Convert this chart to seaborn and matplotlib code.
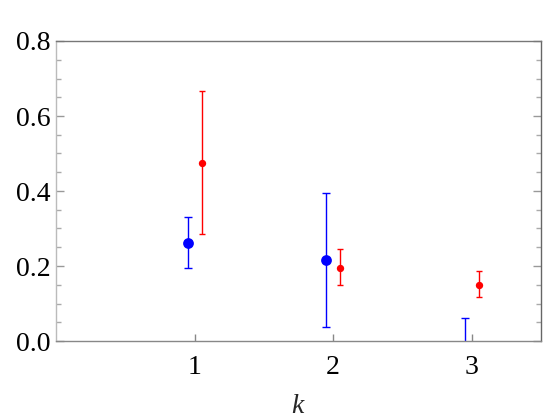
import numpy as np
import matplotlib
matplotlib.use("Agg")
import matplotlib.pyplot as plt
import seaborn as sns
import pandas as pd
from matplotlib.ticker import MultipleLocator

k = [1, 2, 3]
blue_val = [0.262, 0.216, -0.05]
blue_lo = [0.195, 0.038, -0.20]
blue_hi = [0.331, 0.395, 0.062]
red_val = [0.475, 0.196, 0.150]
red_lo = [0.285, 0.149, 0.118]
red_hi = [0.667, 0.246, 0.187]

sns.set_theme(style="ticks")
serif = "Liberation Serif"
plt.rcParams['font.family'] = [serif, 'DejaVu Serif']
plt.rcParams['mathtext.fontset'] = 'custom'
plt.rcParams['mathtext.it'] = serif + ':italic'
plt.rcParams['mathtext.rm'] = serif

fig = plt.figure(figsize=(5.58, 4.19), dpi=100)
ax = fig.add_axes([56/558, 1-341/419, (541-56)/558, (341-41)/419])

off = 0.05
kb = np.array(k) - off
kr = np.array(k) + off
bv = np.array(blue_val); rv = np.array(red_val)
ax.errorbar(kb, bv, yerr=[bv - np.array(blue_lo), np.array(blue_hi) - bv],
            fmt='none', ecolor=(0, 0, 1), elinewidth=1.0, capsize=3, capthick=1.0, zorder=2)
ax.errorbar(kr, rv, yerr=[rv - np.array(red_lo), np.array(red_hi) - rv],
            fmt='none', ecolor=(1, 0, 0), elinewidth=1.0, capsize=2.5, capthick=1.0, zorder=2)

dfb = pd.DataFrame({"k": kb, "v": bv})
dfr = pd.DataFrame({"k": kr, "v": rv})
sns.scatterplot(data=dfb, x="k", y="v", ax=ax, color=(0, 0, 1), s=60, linewidth=0, zorder=3)
sns.scatterplot(data=dfr, x="k", y="v", ax=ax, color=(1, 0, 0), s=28, linewidth=0, zorder=3)

ax.set_xlim(0.0, 3.5)
ax.set_ylim(0.0, 0.8)
ax.set_xticks(k)
ax.set_yticks([0.0, 0.2, 0.4, 0.6, 0.8])
ax.set_yticklabels(["0.0", "0.2", "0.4", "0.6", "0.8"])
ax.yaxis.set_minor_locator(MultipleLocator(0.05))

ax.spines['left'].set_color('#bbbbbb')
ax.spines['bottom'].set_color('#888888')
ax.spines['top'].set_color('#777777')
ax.spines['right'].set_color('#666666')
for s in ax.spines.values():
    s.set_linewidth(1.0)
    s.set_visible(True)

ax.tick_params(axis='y', which='major', direction='in', length=6, width=1, color='#999999',
               left=True, right=True, labelsize=20, pad=4, labelcolor='black')
ax.tick_params(axis='y', which='minor', direction='in', length=3.5, width=1, color='#aaaaaa',
               left=True, right=True)
ax.tick_params(axis='x', which='major', direction='in', length=5, width=1, color='#888888',
               top=False, bottom=True, labelsize=20, pad=10, labelcolor='black')

ax.set_xlabel("$k$", fontsize=20, labelpad=10)
ax.set_ylabel("")

fig.savefig("out.png", dpi=100)
